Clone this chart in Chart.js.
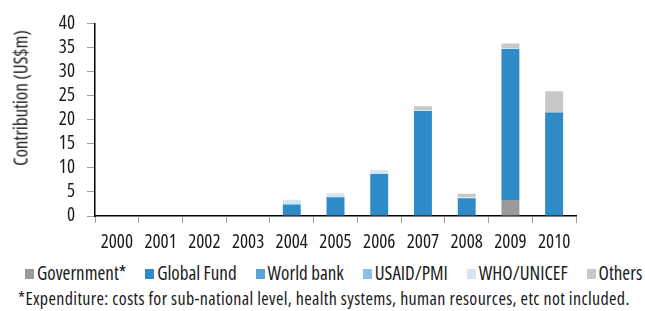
<!DOCTYPE html>
<html>
<head>
<meta charset="utf-8">
<script src="https://cdn.jsdelivr.net/npm/chart.js@4.4.1/dist/chart.umd.min.js"></script>
<style>
  html, body { margin: 0; padding: 0; background: #fff; }
  #wrap { position: relative; width: 645px; height: 311px; overflow: hidden;
          font-family: "Open Sans", sans-serif; font-stretch: condensed; color: #1a1a1a; }
  #c { position: absolute; left: 0; top: 0; }
  #ytitle { position: absolute; left: 21px; top: 98px; transform: translate(-50%, -50%) rotate(-90deg);
            font-size: 19px; white-space: nowrap; line-height: 19px; }
  #legend { position: absolute; left: 25px; top: 262px; height: 22px; display: flex; align-items: center;
            font-size: 19px; line-height: 22px; white-space: nowrap; }
  #legend .item { display: flex; align-items: center; margin-right: 19px; }
  #legend .box { width: 9px; height: 10px; margin-right: 3px; margin-top: 1px; }
  #note { position: absolute; left: 18px; top: 288px; font-size: 18px; letter-spacing: 0.35px; line-height: 20px; white-space: nowrap; }
</style>
</head>
<body>
<div id="wrap">
  <canvas id="c" width="645" height="258"></canvas>
  <div id="ytitle">Contribution (US$m)</div>
  <div id="legend"></div>
  <div id="note">*Expenditure: costs for sub-national level, health systems, human resources, etc not included.</div>
</div>
<script>
const years = ["2000","2001","2002","2003","2004","2005","2006","2007","2008","2009","2010"];
const seriesNames = ["Government*","Global Fund","World bank","USAID/PMI","WHO/UNICEF","Others"];
const government = [0,0,0,0,0,0,0,0,0,3.3,0];
const globalFund = [0,0,0,0,2.4,3.9,8.7,21.8,3.7,31.4,21.5];
const worldBank  = [0,0,0,0,0,0,0,0,0,0,0];
const usaidPmi   = [0,0,0,0,0,0,0,0,0,0,0];
const whoUnicef  = [0,0,0,0,1.0,0.8,0.8,0.2,0.2,0.2,0];
const others     = [0,0,0,0,0,0,0,0.8,0.7,0.9,4.4];
const yTicks = [0,5,10,15,20,25,30,35,40];

const colors = ["#9a9a9a","#2f8ac8","#5ba4d9","#8dc0e4","#d2e5f4","#c8c8c8"];
const values = [government, globalFund, worldBank, usaidPmi, whoUnicef, others];

const FAMILY = '"Open Sans", sans-serif';

const datasets = seriesNames.map((n, i) => ({
  label: n,
  data: values[i],
  backgroundColor: colors[i],
  borderWidth: 0,
  barPercentage: 0.41,
  categoryPercentage: 1.0
}));

new Chart(document.getElementById('c'), {
  type: 'bar',
  data: { labels: years, datasets },
  options: {
    responsive: false,
    animation: false,
    devicePixelRatio: 1,
    layout: { padding: { top: 17, right: 69, left: 0, bottom: 0 } },
    plugins: { legend: { display: false }, tooltip: { enabled: false } },
    scales: {
      x: {
        stacked: true,
        afterFit: s => { s.height = 42; },
        grid: { drawOnChartArea: false, offset: true, tickLength: 7, tickColor: '#a0a0a0' },
        border: { color: '#000', width: 1.5 },
        ticks: { color: '#1a1a1a', font: { family: FAMILY, size: 19, weight: 'condensed' },
                 padding: 8, maxRotation: 0, autoSkip: false }
      },
      y: {
        stacked: true,
        min: yTicks[0],
        max: yTicks[yTicks.length - 1],
        afterFit: s => { s.width = 95; },
        afterBuildTicks: s => { s.ticks = yTicks.map(v => ({ value: v })); },
        grid: { drawOnChartArea: false, tickLength: 8, tickColor: '#a0a0a0' },
        border: { color: '#000', width: 1.5 },
        ticks: { color: '#1a1a1a', font: { family: FAMILY, size: 19, weight: 'condensed' },
                 padding: 12, autoSkip: false }
      }
    }
  }
});

const leg = document.getElementById('legend');
seriesNames.forEach((n, i) => {
  const it = document.createElement('div');
  it.className = 'item';
  const b = document.createElement('span');
  b.className = 'box';
  b.style.background = colors[i];
  const t = document.createElement('span');
  t.textContent = n;
  it.appendChild(b); it.appendChild(t);
  leg.appendChild(it);
});
</script>
</body>
</html>
